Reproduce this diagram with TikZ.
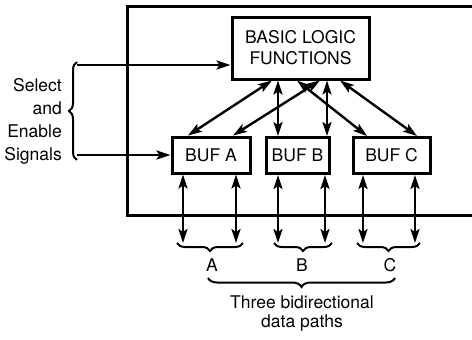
\documentclass[tikz,border=0pt]{standalone}
\usepackage{fontspec}
\setmainfont{TeX Gyre Heros}
\usetikzlibrary{arrows.meta,decorations.pathreplacing}
\begin{document}
\begin{tikzpicture}[x=1pt,y=-1pt,
  box/.style={draw,line width=3pt,inner sep=0pt,align=center,font=\fontsize{17.5}{21}\selectfont},
  conn/.style={line width=2.4pt,-{Stealth[length=14pt,width=9pt,inset=3pt]}},
  bconn/.style={line width=2.4pt,{Stealth[length=14pt,width=9pt,inset=3pt]}-{Stealth[length=14pt,width=9pt,inset=3pt]}},
  brc/.style={line width=2pt,decorate,decoration={brace,amplitude=#1}},
  lbl/.style={font=\fontsize{17.5}{21}\selectfont,inner sep=0pt}]
\useasboundingbox (0,0) rectangle (472,340);
% enclosure
\draw[line width=3pt] (472,6) -- (127,6) -- (127,215) -- (472,215);
% boxes
\node[box,minimum width=137pt,minimum height=62pt] (basic) at (300.5,48) {BASIC LOGIC\\FUNCTIONS};
\node[box,minimum width=78pt,minimum height=36pt] (bufa) at (211,155) {BUF A};
\node[box,minimum width=63pt,minimum height=36pt] (bufb) at (297.5,155.5) {BUF B};
\node[box,minimum width=77pt,minimum height=36pt] (bufc) at (391.5,155.5) {BUF C};
% basic to buffers
\draw[bconn] ([xshift=-28.5pt]basic.south) -- ([xshift=-23pt]bufa.north);
\draw[bconn] ([xshift=19.5pt]basic.south) -- ([xshift=22pt]bufa.north);
\draw[bconn] ([xshift=-22.5pt]basic.south) -- ([xshift=-19.5pt]bufb.north);
\draw[bconn] ([xshift=26.5pt]basic.south) -- ([xshift=29.5pt]bufb.north);
\draw[bconn] ([xshift=-3.5pt]basic.south) -- ([xshift=-24.5pt]bufc.north);
\draw[bconn] ([xshift=39.5pt]basic.south) -- ([xshift=25.5pt]bufc.north);
% data path ends
\coordinate (a1) at (183,243); \coordinate (a2) at (236,243);
\coordinate (b1) at (278,243); \coordinate (b2) at (325,243);
\coordinate (c1) at (363,243); \coordinate (c2) at (415,243);
\draw[bconn] ([xshift=-28pt]bufa.south) -- (a1);
\draw[bconn] ([xshift=25pt]bufa.south) -- (a2);
\draw[bconn] ([xshift=-19.5pt]bufb.south) -- (b1);
\draw[bconn] ([xshift=27.5pt]bufb.south) -- (b2);
\draw[bconn] ([xshift=-28.5pt]bufc.south) -- (c1);
\draw[bconn] ([xshift=23.5pt]bufc.south) -- (c2);
% small braces
\draw[brc=8pt] (243,243) -- (177,243);
\draw[brc=8pt] (332,243) -- (274,243);
\draw[brc=8pt] (420,243) -- (357,243);
\node[lbl] (la) at (212,265) {A};
\node[lbl] (lb) at (302,265) {B};
\node[lbl] (lc) at (390,265) {C};
% big brace
\draw[brc=9pt] (395,278) -- (208,278);
\node[lbl,align=center,font=\fontsize{17.5}{19}\selectfont] (three) at (302,314) {Three bidirectional\\data paths};
% left signals
\node[lbl,align=right,anchor=east,font=\fontsize{17.5}{23}\selectfont] (sig) at (62,121) {Select\\and\\Enable\\Signals};
\draw[brc=8pt] (77,160) -- (77,62);
\coordinate (s1) at (77,65);
\coordinate (s2) at (77,155);
\draw[conn] (s1) -- (basic.west |- s1);
\draw[conn] (s2) -- (bufa.west |- s2);
\end{tikzpicture}
\end{document}
